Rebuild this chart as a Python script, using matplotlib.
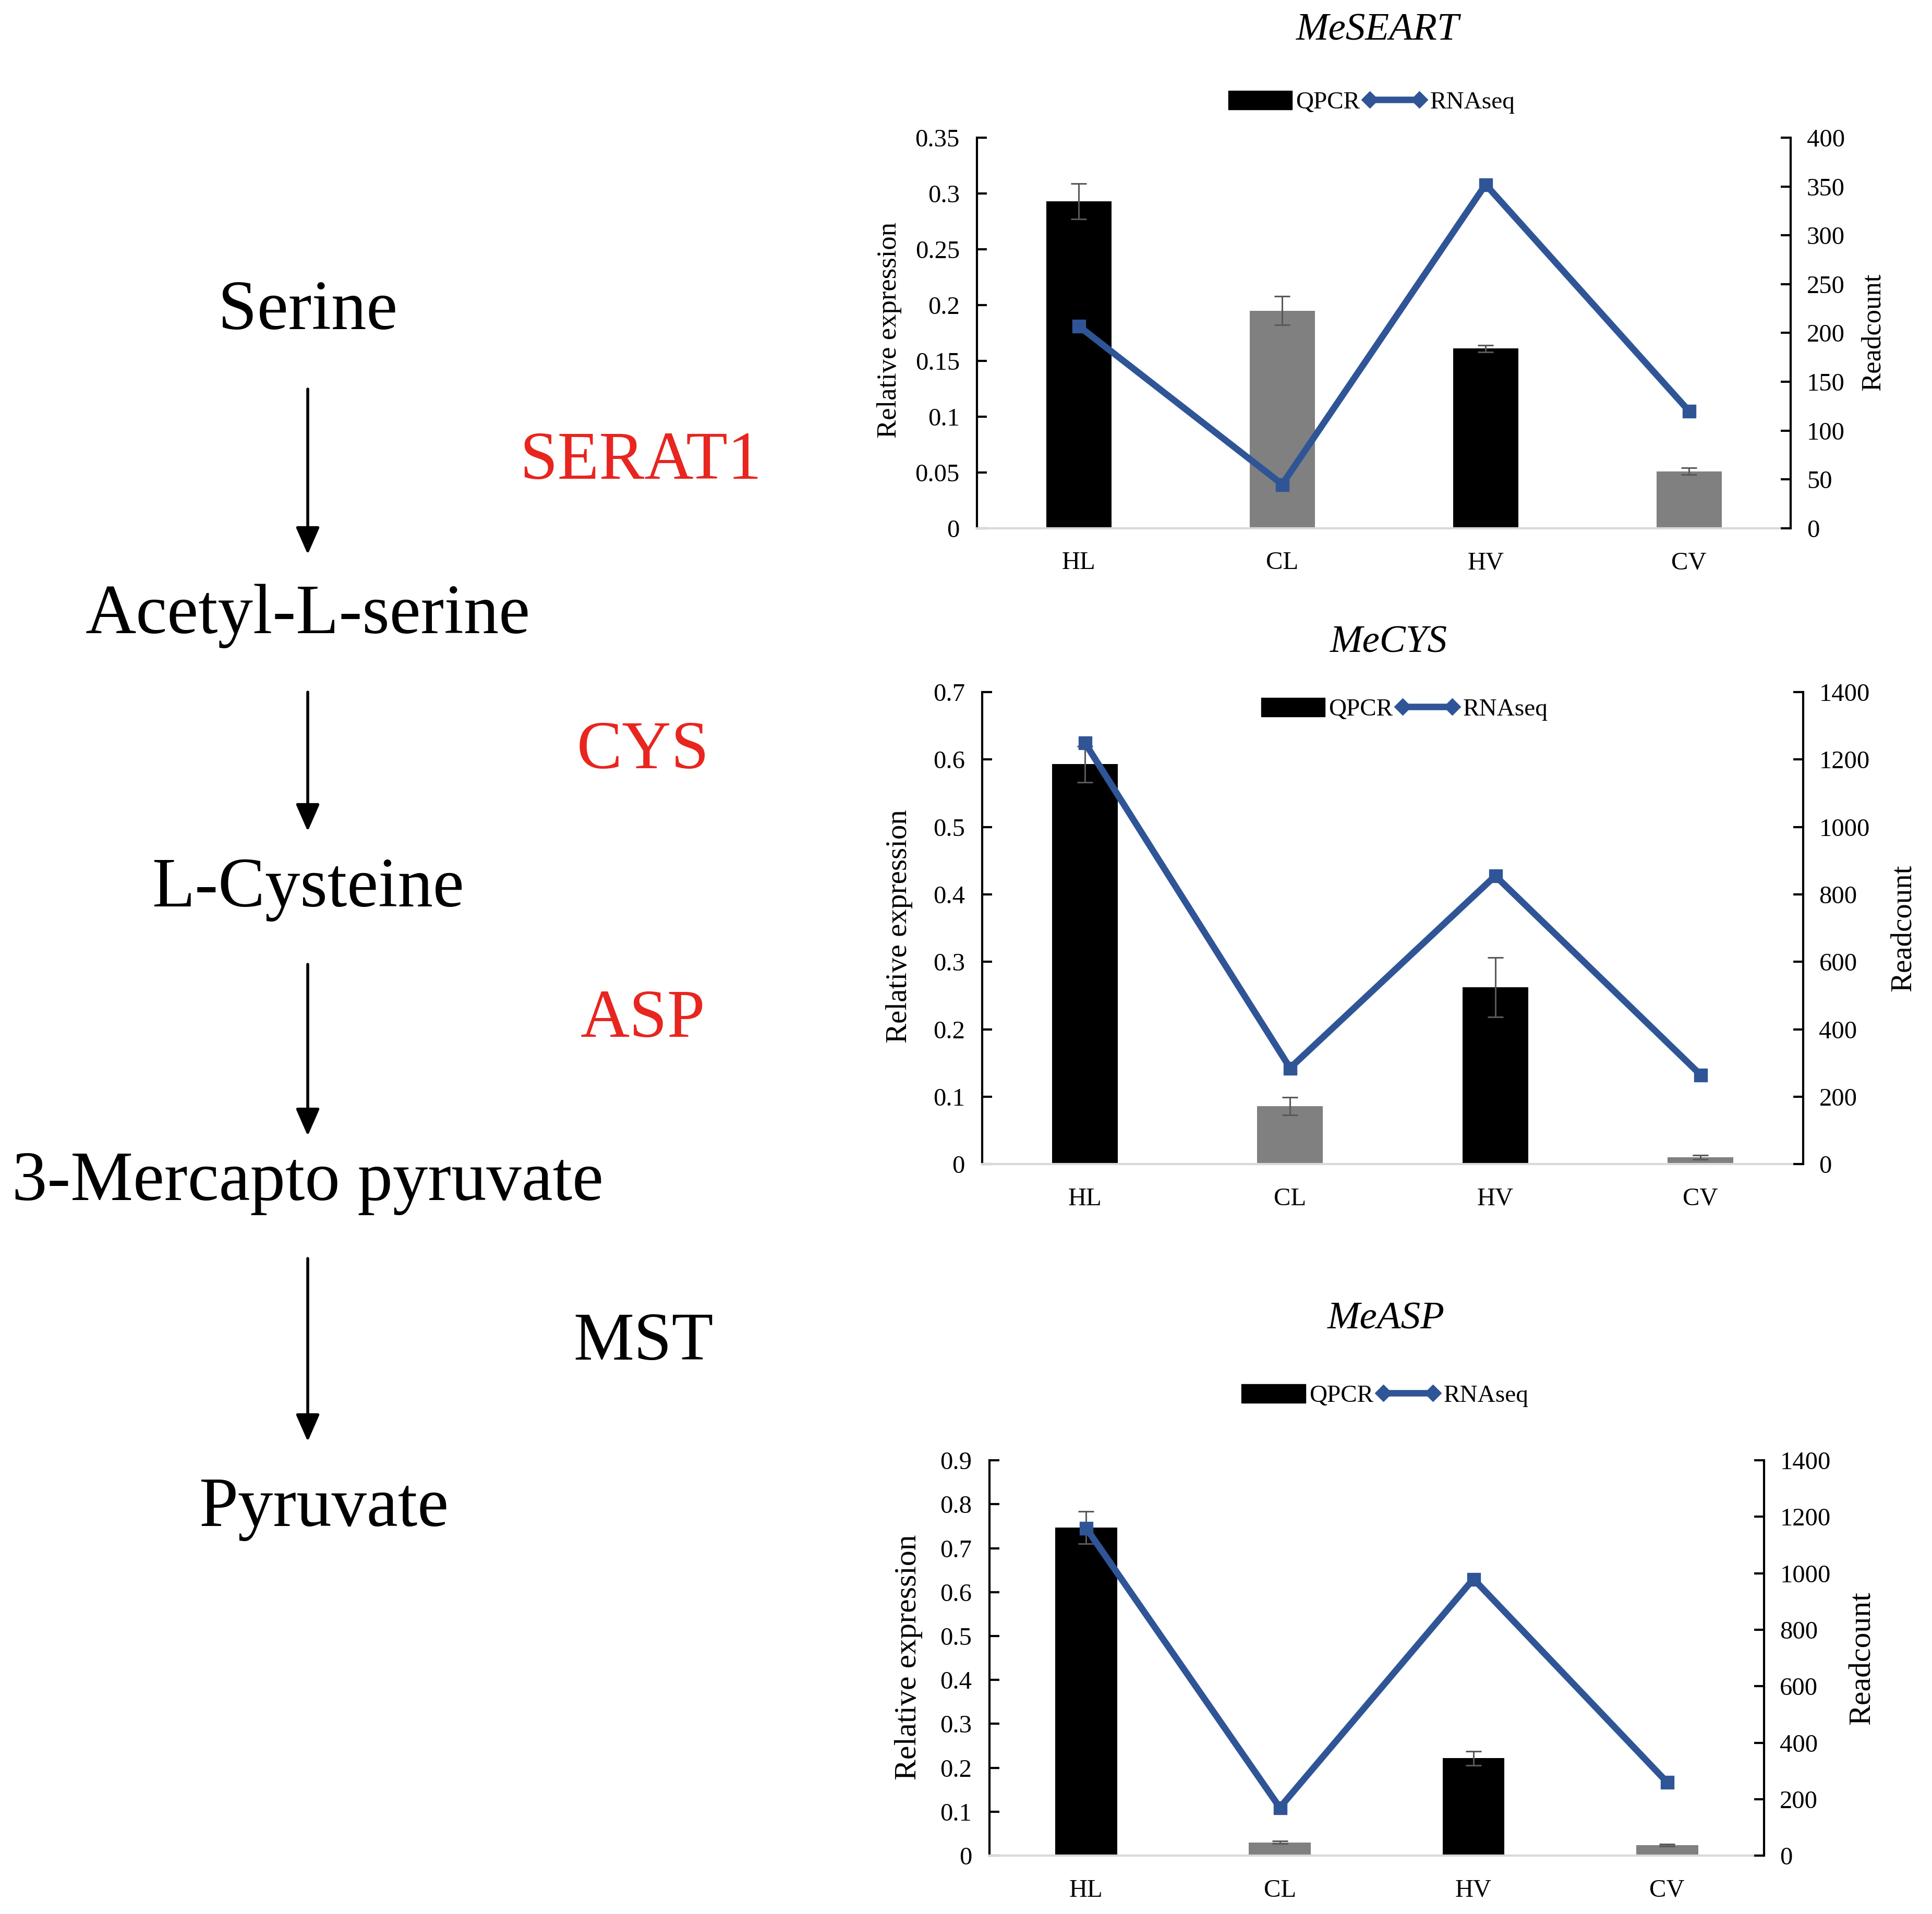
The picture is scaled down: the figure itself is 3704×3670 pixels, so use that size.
import matplotlib.pyplot as plt
from matplotlib.patches import Patch
from matplotlib.lines import Line2D

plt.rcParams['font.family'] = ['Liberation Serif', 'DejaVu Serif']

# Datos
grupos = ['HL', 'CL', 'HV', 'CV']
colores_barras = ['#000000', '#808080', '#000000', '#808080']

seart_qpcr = [0.293, 0.195, 0.161, 0.051]
seart_err = [0.016, 0.013, 0.003, 0.003]
seart_rna = [207, 45, 352, 120]

cys_qpcr = [0.593, 0.086, 0.262, 0.010]
cys_err = [0.027, 0.013, 0.044, 0.003]
cys_rna = [1250, 285, 855, 265]

asp_qpcr = [0.747, 0.030, 0.222, 0.024]
asp_err = [0.037, 0.003, 0.016, 0.002]
asp_rna = [1160, 170, 980, 260]

# Ruta metabolica (texto, posicion en pixeles)
metabolitos = ['Serine', 'Acetyl-L-serine', 'L-Cysteine', '3-Mercapto pyruvate', 'Pyruvate']
metab_pos = [(590, 598), (590, 1181), (590, 1705), (590, 2268), (621, 2893)]
flechas = [(746, 1063), (1327, 1594), (1849, 2178), (2413, 2764)]
enzimas = ['SERAT1', 'CYS', 'ASP', 'MST']
enz_pos = [(1228, 886), (1233, 1441), (1233, 1956), (1233, 2575)]
enz_color = ['#E8251F', '#E8251F', '#E8251F', '#000000']

AZUL = '#2F5597'

fig = plt.figure(figsize=(37.04, 36.70), dpi=100)

# Panel izquierdo
ax0 = fig.add_axes([0, 0, 1, 1])
ax0.set_xlim(0, 3704)
ax0.set_ylim(3670, 0)
ax0.axis('off')
for nombre, (x, y) in zip(metabolitos, metab_pos):
    ax0.text(x, y, nombre, fontsize=97, ha='center', va='center')
for y0, y1 in flechas:
    ax0.annotate('', xy=(590, y1), xytext=(590, y0),
                 arrowprops=dict(arrowstyle='-|>,head_width=0.35,head_length=0.8',
                                 mutation_scale=40, color='black', lw=4,
                                 shrinkA=0, shrinkB=0))
for nombre, (x, y), c in zip(enzimas, enz_pos, enz_color):
    ax0.text(x, y, nombre, fontsize=94, ha='center', va='center', color=c)


def grafico(rect, titulo, qpcr, err, rna, ymax, ystep, rmax, rstep,
            titulo_pos, leyenda_pos, lab_l, lab_r, lab_fs):
    ax = fig.add_axes(rect)
    x = range(len(grupos))
    ax.bar(x, qpcr, width=0.32, color=colores_barras, zorder=2)
    ax.errorbar(x, qpcr, yerr=err, fmt='none', ecolor='#595959',
                elinewidth=2.2, capsize=11, capthick=2.2, zorder=3)
    ax.set_xlim(-0.5, 3.5)
    ax.set_ylim(0, ymax)
    ticks = [round(i * ystep, 2) for i in range(int(round(ymax / ystep)) + 1)]
    ax.set_yticks(ticks)
    ax.set_yticklabels(['0' if t == 0 else ('%g' % t) for t in ticks])
    ax.set_xticks(list(x))
    ax.set_xticklabels(grupos)
    ax.tick_params(axis='y', direction='in', length=14, width=3, labelsize=35, pad=24)
    ax.tick_params(axis='x', length=0, labelsize=35, pad=32)
    ax.spines['top'].set_visible(False)
    ax.spines['right'].set_visible(False)
    ax.spines['left'].set_linewidth(3)
    ax.spines['bottom'].set_color('#D9D9D9')
    ax.spines['bottom'].set_linewidth(3)

    ax2 = ax.twinx()
    ax2.plot(x, rna, color=AZUL, lw=9, marker='s', markersize=18, zorder=4)
    ax2.set_ylim(0, rmax)
    ax2.set_yticks(range(0, rmax + 1, rstep))
    ax2.tick_params(axis='y', direction='in', length=14, width=3, labelsize=35, pad=22)
    for s in ['top', 'left', 'bottom']:
        ax2.spines[s].set_visible(False)
    ax2.spines['right'].set_linewidth(3)

    ax.text(lab_l[0], lab_l[1], 'Relative expression', transform=ax.transAxes,
            rotation=90, ha='center', va='center', fontsize=lab_fs)
    ax2.text(lab_r[0], lab_r[1], 'Readcount', transform=ax.transAxes,
             rotation=90, ha='center', va='center', fontsize=lab_fs)

    fig.text(titulo_pos[0], titulo_pos[1], titulo, style='italic',
             fontsize=54, ha='center', va='center')

    handles = [Patch(facecolor='black', edgecolor='black'),
               Line2D([0], [0], color=AZUL, lw=9, marker='D', markersize=16)]
    fig.legend(handles, ['QPCR', 'RNAseq'], loc='center',
               bbox_to_anchor=leyenda_pos, ncol=2, frameon=False, fontsize=34,
               handlelength=2.6, handleheight=0.8, handletextpad=0.15,
               columnspacing=0.1, numpoints=2)


grafico([0.5057, 0.7240, 0.4212, 0.2041], 'MeSEART', seart_qpcr, seart_err, seart_rna,
        0.35, 0.05, 400, 50, (0.713, 0.984), (0.710, 0.9466),
        (-0.108, 0.507), (1.101, 0.503), 38)
grafico([0.5084, 0.3918, 0.4249, 0.2466], 'MeCYS', cys_qpcr, cys_err, cys_rna,
        0.7, 0.1, 1400, 200, (0.7187, 0.664), (0.727, 0.6294),
        (-0.101, 0.504), (1.122, 0.50), 41)
grafico([0.5121, 0.0305, 0.4009, 0.2065], 'MeASP', asp_qpcr, asp_err, asp_rna,
        0.9, 0.1, 1400, 200, (0.7173, 0.3106), (0.717, 0.2708),
        (-0.104, 0.502), (1.127, 0.50), 43)

fig.savefig('out.png', dpi=100)
